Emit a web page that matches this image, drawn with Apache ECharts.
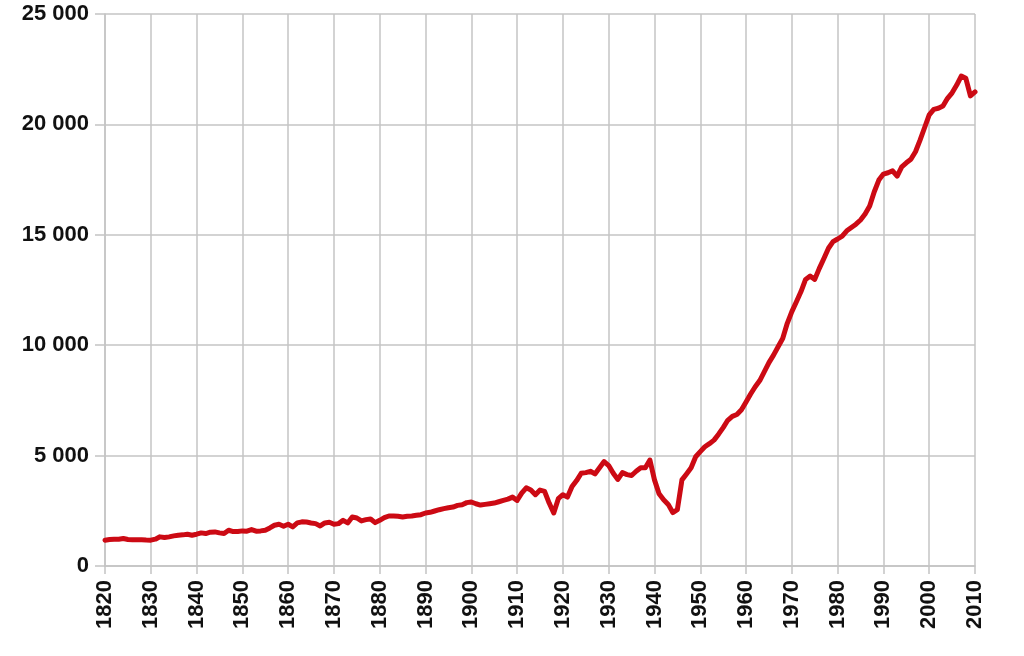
<!DOCTYPE html>
<html>
<head>
<meta charset="utf-8">
<script src="https://cdn.jsdelivr.net/npm/echarts@6/dist/echarts.min.js"></script>
<style>
  html, body { margin: 0; padding: 0; background: #fff; }
  #chart { width: 1024px; height: 656px; }
</style>
</head>
<body>
<div id="chart"></div>
<script>
// years 1820..2010, one value per year
var firstYear = 1820;
var lastYear = 2010;
var yTicks = [0, 5000, 10000, 15000, 20000, 25000];

var values1820s = [1170, 1200, 1215, 1215, 1245, 1200, 1185, 1185, 1185, 1175];
var values1830s = [1170, 1215, 1320, 1290, 1320, 1365, 1395, 1410, 1440, 1395];
var values1840s = [1440, 1500, 1470, 1530, 1545, 1500, 1470, 1620, 1560, 1560];
var values1850s = [1590, 1575, 1650, 1575, 1590, 1620, 1725, 1845, 1890, 1800];
var values1860s = [1890, 1770, 1950, 2000, 1990, 1950, 1920, 1815, 1950, 1980];
var values1870s = [1890, 1920, 2070, 1950, 2220, 2175, 2040, 2100, 2130, 1965];
var values1880s = [2070, 2190, 2265, 2265, 2250, 2220, 2250, 2265, 2295, 2325];
var values1890s = [2400, 2430, 2490, 2550, 2600, 2640, 2670, 2745, 2775, 2870];
var values1900s = [2900, 2820, 2760, 2790, 2820, 2850, 2910, 2970, 3030, 3120];
var values1910s = [2970, 3300, 3540, 3440, 3230, 3440, 3380, 2850, 2400, 3050];
var values1920s = [3230, 3120, 3600, 3870, 4200, 4230, 4290, 4170, 4450, 4730];
var values1930s = [4550, 4200, 3920, 4230, 4140, 4100, 4290, 4450, 4450, 4800];
var values1940s = [3900, 3270, 3000, 2790, 2420, 2550, 3900, 4170, 4450, 4950];
var values1950s = [5180, 5400, 5540, 5700, 5970, 6270, 6600, 6780, 6860, 7080];
var values1960s = [7430, 7790, 8120, 8400, 8800, 9210, 9550, 9930, 10300, 10990];
var values1970s = [11520, 11970, 12430, 12980, 13130, 12980, 13480, 13930, 14390, 14690];
var values1980s = [14810, 14940, 15180, 15330, 15480, 15670, 15940, 16300, 16950, 17480];
var values1990s = [17750, 17810, 17900, 17660, 18080, 18260, 18420, 18760, 19290, 19860];
var values2000s = [20430, 20680, 20730, 20830, 21180, 21430, 21780, 22190, 22090, 21290];
var values2010s = [21470];

var allValues = [].concat(values1820s, values1830s, values1840s, values1850s,
  values1860s, values1870s, values1880s, values1890s, values1900s, values1910s,
  values1920s, values1930s, values1940s, values1950s, values1960s, values1970s,
  values1980s, values1990s, values2000s, values2010s);

var points = allValues.map(function (v, i) { return [firstYear + i, v]; });

function spaced(v) {
  return String(v).replace(/\B(?=(\d{3})+(?!\d))/g, ' ');
}

var gridGray = '#c4c4c4';
var labelFont = {
  color: '#111',
  fontFamily: 'Liberation Sans, Arial, sans-serif',
  fontWeight: 'bold',
  fontSize: 22
};

var myChart = echarts.init(document.getElementById('chart'));

var option = {
  animation: false,
  grid: { left: 105, right: 49, top: 14, bottom: 90 },
  xAxis: {
    type: 'value',
    min: firstYear,
    max: lastYear,
    interval: 10,
    axisLine: { show: true, lineStyle: { color: gridGray, width: 1.5 } },
    axisTick: { show: true, length: 8, lineStyle: { color: gridGray, width: 1.5 } },
    splitLine: { show: true, lineStyle: { color: gridGray, width: 1.5 } },
    axisLabel: Object.assign({
      rotate: 90,
      margin: 14,
      formatter: function (v) { return String(v); }
    }, labelFont)
  },
  yAxis: {
    type: 'value',
    min: yTicks[0],
    max: yTicks[yTicks.length - 1],
    interval: 5000,
    axisLine: { show: true, lineStyle: { color: gridGray, width: 1.5 } },
    axisTick: { show: true, length: 10, lineStyle: { color: gridGray, width: 1.5 } },
    splitLine: { show: true, lineStyle: { color: gridGray, width: 1.5 } },
    axisLabel: Object.assign({
      margin: 16,
      formatter: spaced
    }, labelFont)
  },
  series: [
    {
      type: 'line',
      data: points,
      showSymbol: false,
      smooth: false,
      lineStyle: { color: '#cc0a14', width: 5, join: 'round', cap: 'round' }
    }
  ]
};

myChart.setOption(option);
</script>
</body>
</html>
